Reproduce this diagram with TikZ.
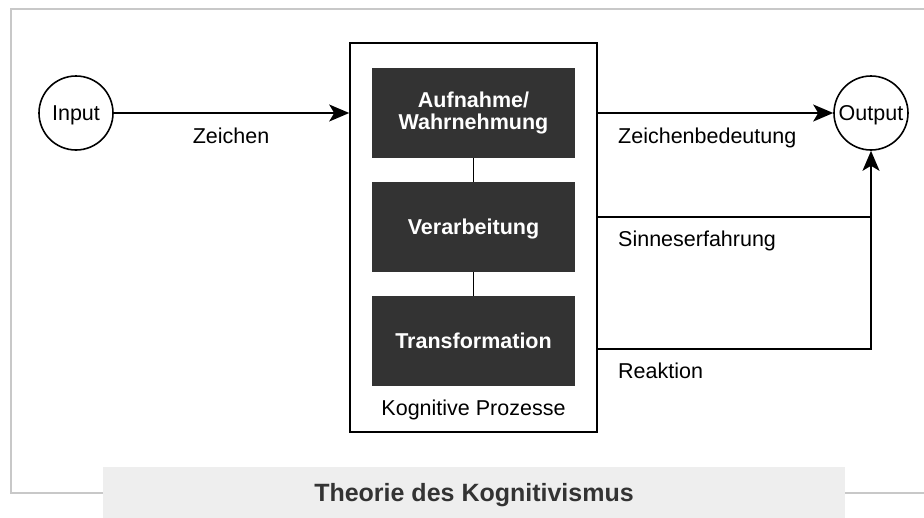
\documentclass[tikz,border=0pt]{standalone}
\usepackage{fontspec}
\setmainfont{Liberation Sans}
\usetikzlibrary{arrows.meta}
\definecolor{frame}{HTML}{C8C8C8}
\definecolor{darkbox}{HTML}{333333}
\definecolor{titlebg}{HTML}{EEEEEE}
\definecolor{titletext}{HTML}{333333}
\tikzset{
  base/.style={font=\fontsize{21.5}{23}\selectfont, inner sep=0pt},
  lbl/.style={base, anchor=base west},
  endpoint/.style={base, circle, draw, line width=1.6pt, minimum size=74pt,
    text height=15.4pt, text depth=0pt},
  stage/.style={base, font=\fontsize{21.5}{23}\selectfont\bfseries, text=white,
    fill=darkbox, minimum width=203pt, minimum height=90pt, align=center},
  oneline/.style={text height=15.4pt, text depth=0pt},
  container/.style={draw, line width=1.6pt, minimum width=247pt, minimum height=389pt},
  flow/.style={line width=1.6pt},
  tip/.style={-{Stealth[length=20pt,width=17pt,inset=5pt]}}
}
\begin{document}
\begin{tikzpicture}[x=1pt,y=-1pt]
\useasboundingbox (0,0) rectangle (924,517);

% outer frame, open to the right
\draw[frame, line width=2pt] (926,9) -- (11,9) -- (11,493) -- (926,493);

% process container and its stages
\node[container] (proc) at (473.5,237.5) {};
\node[stage] (b1) at (473.5,113) {Aufnahme/\\[-0.5pt]Wahrnehmung};
\node[stage, oneline] (b2) at (473.5,227) {Verarbeitung};
\node[stage, oneline] (b3) at (473.5,341) {Transformation};
\node[base, anchor=base] (kp) at (473.5,415.5) {Kognitive Prozesse};
\draw[flow] (b1.south) -- (b2.north);
\draw[flow] (b2.south) -- (b3.north);

% input and output
\node[endpoint] (inp) at (76,113) {Input};
\node[endpoint] (outp) at (871,113) {Output};

\coordinate (sy) at (597,217);
\coordinate (ry) at (597,349);

\draw[flow, tip] (inp.east) -- (inp.east -| proc.west);
\draw[flow, tip] (proc.east |- outp) -- (outp.west);
\draw[flow] (sy) -- (sy -| outp.south);
\draw[flow, tip] (ry) -| (outp.south);

% connector labels
\node[base, anchor=base] (lz) at (231,143) {Zeichen};
\node[lbl] (lzb) at (618,143) {Zeichenbedeutung};
\node[lbl] (ls) at (618,246.5) {Sinneserfahrung};
\node[lbl] (lr) at (618,378) {Reaktion};

% caption bar
\node[fill=titlebg, minimum width=742pt, minimum height=52pt, inner sep=0pt,
  text=titletext, font=\fontsize{25}{27}\selectfont\bfseries,
  text height=17.9pt, text depth=0pt] (title) at (474,493) {Theorie des Kognitivismus};
\end{tikzpicture}
\end{document}
